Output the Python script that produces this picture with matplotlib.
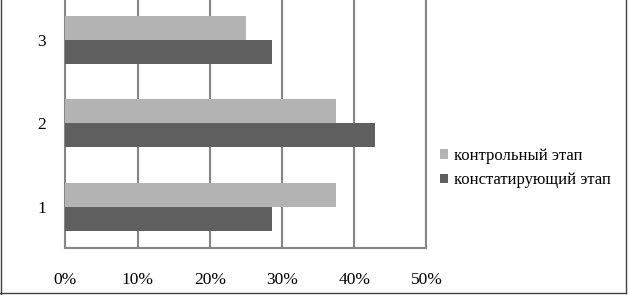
import matplotlib
matplotlib.use("Agg")
import matplotlib.pyplot as plt
from matplotlib.lines import Line2D
import numpy as np

# data
categories = ["1", "2", "3"]
control = [37.5, 37.5, 25.0]          # контрольный этап
baseline = [28.6, 42.9, 28.6]         # констатирующий этап
xticks = [0, 10, 20, 30, 40, 50]

plt.rcParams['font.family'] = ['Liberation Serif', 'DejaVu Serif']

fig = plt.figure(figsize=(6.29, 2.95), dpi=100)
ax = fig.add_axes([0.104, 0.158, 0.574, 0.848])

y = np.arange(len(categories))
h = 0.288
grid_c = '#858585'

ax.barh(y + h / 2, control, height=h, color='#b3b3b3', label='контрольный этап', zorder=3)
ax.barh(y - h / 2, baseline, height=h, color='#5f5f5f', label='констатирующий этап', zorder=3)

ax.set_xlim(0, 50)
ax.set_ylim(-0.5, 2.5)
ax.set_xticks(xticks)
ax.set_xticklabels([f"{v}%" for v in xticks], fontsize=12.5)
ax.set_yticks(y)
ax.set_yticklabels(categories, fontsize=12.5)
ax.tick_params(length=0, pad=17, axis='x')
ax.tick_params(length=0, pad=14, axis='y')
for v in xticks[1:]:
    ax.axvline(v, color=grid_c, lw=1.5, zorder=1)
ax.spines['top'].set_visible(False)
for s in ['left', 'bottom', 'right']:
    ax.spines[s].set_color(grid_c)
    ax.spines[s].set_linewidth(1.5)

handles, labels = ax.get_legend_handles_labels()
fig.legend(handles, labels, loc='center left', bbox_to_anchor=(0.699, 0.43),
           frameon=False, fontsize=12, handlelength=0.5, handleheight=0.5,
           handletextpad=0.35, labelspacing=0.5, borderpad=0, borderaxespad=0)

# outer chart frame
fc = '#404040'
fig.add_artist(Line2D([0.001, 0.001], [0.0, 1.0], color=fc, lw=1, transform=fig.transFigure))
fig.add_artist(Line2D([0.0, 0.996], [0.007, 0.007], color=fc, lw=1, transform=fig.transFigure))
fig.add_artist(Line2D([0.996, 0.996], [0.007, 1.0], color=fc, lw=1, transform=fig.transFigure))

fig.savefig("out.png", dpi=100)
